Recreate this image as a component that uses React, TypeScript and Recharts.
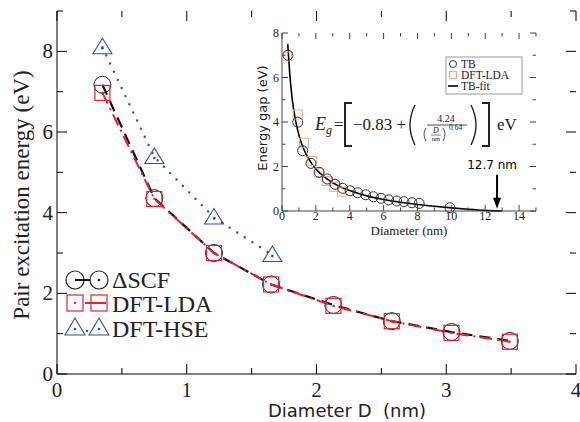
import React from 'react';
import { ComposedChart, Line, Scatter, XAxis, YAxis } from 'recharts';

// main panel: pair excitation energy vs diameter
const SCF_D = [0.35, 0.75, 1.21, 1.65, 2.13, 2.58, 3.04, 3.49];
const SCF_E = [7.17, 4.36, 3.0, 2.22, 1.71, 1.31, 1.04, 0.82];
const LDA_D = [0.35, 0.75, 1.21, 1.65, 2.13, 2.58, 3.04, 3.49];
const LDA_E = [6.97, 4.34, 3.0, 2.22, 1.69, 1.31, 1.02, 0.8];
const HSE_D = [0.35, 0.75, 1.21, 1.66];
const HSE_E = [8.1, 5.38, 3.88, 2.95];
const MAIN_X_TICKS = [0, 0.5, 1, 1.5, 2, 2.5, 3, 3.5, 4];
const MAIN_Y_TICKS = [0, 1, 2, 3, 4, 5, 6, 7, 8, 9];

// inset: energy gap vs diameter
const TB_D = [0.35, 0.93, 1.22, 1.71, 2.19, 2.68, 3.13, 3.58, 4.02, 4.47, 4.94, 5.4, 5.85, 6.3, 6.77, 7.2, 7.67, 8.1, 9.92];
const TB_E = [7.0, 3.99, 2.71, 2.14, 1.74, 1.44, 1.2, 1.02, 0.91, 0.82, 0.73, 0.64, 0.57, 0.5, 0.45, 0.42, 0.37, 0.34, 0.15];
const LDA_IN_D = [0.3, 0.93, 1.3, 1.79, 2.2, 2.64, 3.09, 3.56];
const LDA_IN_E = [6.95, 4.34, 3.07, 2.25, 1.72, 1.35, 1.09, 0.87];
const FIT_D = [0.34, 0.45, 0.6, 0.8, 1, 1.3, 1.6, 2, 2.5, 3, 3.5, 4, 5, 6, 7, 8, 9, 10, 11, 12, 13];
const FIT_E = [7.5, 6.24, 5.05, 4.06, 3.41, 2.75, 2.31, 1.89, 1.53, 1.27, 1.07, 0.92, 0.68, 0.52, 0.39, 0.29, 0.21, 0.14, 0.08, 0.03, 0.0];
const IN_X_TICKS = [0, 1, 2, 3, 4, 5, 6, 7, 8, 9, 10, 11, 12, 13, 14, 15];
const IN_Y_TICKS = [0, 1, 2, 3, 4, 5, 6, 7, 8];
const ARROW_AT = [{ d: 12.7, e: 0.1 }];

const pts = (xs: number[], ys: number[]) => xs.map((d, i) => ({ d, e: ys[i] }));

const SERIF = 'Liberation Serif, DejaVu Serif, serif';
const SANS = 'DejaVu Sans, sans-serif';
const RED = '#e8202a';
const BLUE = '#2d4fae';
const SALMON = '#f4a383';

// plot edges (main chart)
const M_TOP = 11;
const M_BOTTOM = 374;
const M_LEFT = 57;
const M_RIGHT = 576;
// plot edges (inset, relative to its own box)
const I_TOP = 13;
const I_BOTTOM = 191;
const I_LEFT = 32;
const I_RIGHT = 286;

const MainXTick = (p: any) => {
  const v = p.payload.value;
  const major = Number.isInteger(v);
  const len = major ? 10 : 6;
  return (
    <g>
      <line x1={p.x} x2={p.x} y1={M_BOTTOM} y2={M_BOTTOM - len} stroke="#000" />
      <line x1={p.x} x2={p.x} y1={M_TOP} y2={M_TOP + len} stroke="#000" />
      {major && (
        <text x={p.x} y={397} textAnchor="middle" style={{ fontFamily: SERIF }} fontSize={21} fill="#222">
          {v}
        </text>
      )}
    </g>
  );
};

const MainYTick = (p: any) => {
  const v = p.payload.value;
  const major = v % 2 === 0;
  const len = major ? 10 : 6;
  return (
    <g>
      <line x1={M_LEFT} x2={M_LEFT + len} y1={p.y} y2={p.y} stroke="#000" />
      <line x1={M_RIGHT} x2={M_RIGHT - len} y1={p.y} y2={p.y} stroke="#000" />
      {major && v < 9 && (
        <text x={53} y={p.y + 7} textAnchor="end" style={{ fontFamily: SERIF }} fontSize={21} fill="#222">
          {v}
        </text>
      )}
    </g>
  );
};

const InXTick = (p: any) => {
  const v = p.payload.value;
  const major = v % 2 === 0;
  const len = major ? 6 : 3.5;
  return (
    <g>
      <line x1={p.x} x2={p.x} y1={I_BOTTOM} y2={I_BOTTOM - len} stroke="#444" />
      <line x1={p.x} x2={p.x} y1={I_TOP} y2={I_TOP + len} stroke="#444" />
      {major && v < 15 && (
        <text x={p.x} y={200} textAnchor="middle" style={{ fontFamily: SERIF }} fontSize={12} fill="#222">
          {v}
        </text>
      )}
    </g>
  );
};

const InYTick = (p: any) => {
  const v = p.payload.value;
  const major = v % 2 === 0;
  const len = major ? 6 : 3.5;
  return (
    <g>
      <line x1={I_LEFT} x2={I_LEFT + len} y1={p.y} y2={p.y} stroke="#444" />
      <line x1={I_RIGHT} x2={I_RIGHT - len} y1={p.y} y2={p.y} stroke="#444" />
      {major && (
        <text x={29} y={p.y + 4} textAnchor="end" style={{ fontFamily: SERIF }} fontSize={12} fill="#222">
          {v}
        </text>
      )}
    </g>
  );
};

const circleDot = (p: any) => (
  <circle key={`c${p.index}`} cx={p.cx} cy={p.cy} r={8.5} fill="none" stroke="#222" strokeWidth={1} />
);
const squareDot = (p: any) => (
  <g key={`s${p.index}`}>
    <rect x={p.cx - 7.5} y={p.cy - 7.5} width={15} height={15} fill="none" stroke={RED} strokeWidth={1.2} />
    <circle cx={p.cx} cy={p.cy} r={1.1} fill={RED} />
  </g>
);
const triDot = (p: any) => (
  <g key={`t${p.index}`}>
    <polygon
      points={`${p.cx},${p.cy - 9} ${p.cx - 9.5},${p.cy + 6.5} ${p.cx + 9.5},${p.cy + 6.5}`}
      fill="none"
      stroke={BLUE}
      strokeWidth={1.1}
    />
    <circle cx={p.cx} cy={p.cy + 1} r={1.3} fill={BLUE} />
  </g>
);

const tbShape = (p: any) => <circle cx={p.cx} cy={p.cy} r={5} fill="none" stroke="#333" strokeWidth={1} />;
const ldaShape = (p: any) => (
  <rect x={p.cx - 4.5} y={p.cy - 4.5} width={9} height={9} fill="none" stroke={SALMON} strokeWidth={1} />
);
const arrowShape = (p: any) => (
  <g>
    <line x1={p.cx} x2={p.cx} y1={p.cy - 34} y2={p.cy - 8} stroke="#000" strokeWidth={2} />
    <polygon points={`${p.cx - 4},${p.cy - 11} ${p.cx + 4},${p.cy - 11} ${p.cx},${p.cy}`} fill="#000" />
    <text x={p.cx - 5} y={p.cy - 40} textAnchor="middle" style={{ fontFamily: SANS }} fontSize={12} fill="#000">
      12.7 nm
    </text>
  </g>
);

const App: React.FC = () => {
  const scf = pts(SCF_D, SCF_E);
  const lda = pts(LDA_D, LDA_E);
  const hse = pts(HSE_D, HSE_E);
  const tb = pts(TB_D, TB_E);
  const ldaIn = pts(LDA_IN_D, LDA_IN_E);
  const fit = pts(FIT_D, FIT_E);

  return (
    <div style={{ position: 'absolute', left: 0, top: 0, width: 580, height: 422, background: '#fff' }}>
      <ComposedChart width={580} height={422} margin={{ top: M_TOP, right: 4, bottom: 0, left: 0 }}>
        <XAxis
          dataKey="d"
          type="number"
          domain={[0, 4]}
          ticks={MAIN_X_TICKS}
          interval={0}
          height={48}
          tickLine={false}
          tick={MainXTick}
          axisLine={{ stroke: '#000' }}
        />
        <XAxis
          xAxisId="top"
          orientation="top"
          type="number"
          domain={[0, 4]}
          height={0}
          tick={false}
          tickLine={false}
          axisLine={{ stroke: '#000' }}
        />
        <YAxis
          type="number"
          domain={[0, 9]}
          ticks={MAIN_Y_TICKS}
          interval={0}
          width={57}
          tickLine={false}
          tick={MainYTick}
          axisLine={{ stroke: '#000' }}
        />
        <YAxis
          yAxisId="right"
          orientation="right"
          type="number"
          domain={[0, 9]}
          width={0}
          tick={false}
          tickLine={false}
          axisLine={{ stroke: '#000' }}
        />
        <Line
          data={hse}
          dataKey="e"
          stroke={BLUE}
          strokeWidth={2.4}
          strokeDasharray="0 9"
          strokeLinecap="round"
          dot={triDot}
          activeDot={false}
          isAnimationActive={false}
        />
        <Line
          data={scf}
          dataKey="e"
          stroke="#111"
          strokeWidth={2.2}
          strokeDasharray="11 7"
          dot={circleDot}
          activeDot={false}
          isAnimationActive={false}
        />
        <Line
          data={lda}
          dataKey="e"
          stroke={RED}
          strokeWidth={2}
          strokeDasharray="12 5 2 5"
          dot={squareDot}
          activeDot={false}
          isAnimationActive={false}
        />
      </ComposedChart>

      <div style={{ position: 'absolute', left: 250, top: 20 }}>
        <ComposedChart width={300} height={215} margin={{ top: I_TOP, right: 14, bottom: 0, left: 0 }}>
          <XAxis
            dataKey="d"
            type="number"
            domain={[0, 15]}
            ticks={IN_X_TICKS}
            interval={0}
            height={24}
            tickLine={false}
            tick={InXTick}
            axisLine={{ stroke: '#444' }}
          />
          <XAxis
            xAxisId="top"
            orientation="top"
            type="number"
            domain={[0, 15]}
            height={0}
            tick={false}
            tickLine={false}
            axisLine={{ stroke: '#444' }}
          />
          <YAxis
            dataKey="e"
            type="number"
            domain={[0, 8]}
            ticks={IN_Y_TICKS}
            interval={0}
            width={32}
            tickLine={false}
            tick={InYTick}
            axisLine={{ stroke: '#444' }}
          />
          <YAxis
            yAxisId="right"
            orientation="right"
            type="number"
            domain={[0, 8]}
            width={0}
            tick={false}
            tickLine={false}
            axisLine={{ stroke: '#444' }}
          />
          <Scatter data={ldaIn} dataKey="e" shape={ldaShape} isAnimationActive={false} />
          <Scatter data={tb} dataKey="e" shape={tbShape} isAnimationActive={false} />
          <Line
            data={fit}
            dataKey="e"
            type="monotone"
            stroke="#000"
            strokeWidth={1.6}
            dot={false}
            activeDot={false}
            isAnimationActive={false}
          />
          <Scatter data={ARROW_AT} dataKey="e" shape={arrowShape} isAnimationActive={false} />
        </ComposedChart>
      </div>

      <svg
        width={580}
        height={422}
        style={{ position: 'absolute', left: 0, top: 0, pointerEvents: 'none' }}
      >
        {/* axis titles */}
        <text
          x={0}
          y={0}
          transform="translate(29,195) rotate(-90)"
          textAnchor="middle"
          style={{ fontFamily: SERIF }}
          fontSize={23}
          fill="#222"
        >
          Pair excitation energy (eV)
        </text>
        <text x={347} y={417} textAnchor="middle" style={{ fontFamily: SANS }} fontSize={18} fill="#222">
          {'Diameter D\u00a0\u00a0(nm)'}
        </text>
        <text
          x={0}
          y={0}
          transform="translate(267,118) rotate(-90)"
          textAnchor="middle"
          style={{ fontFamily: SANS }}
          fontSize={13}
          fill="#222"
        >
          Energy gap (eV)
        </text>
        <text x={409} y={235} textAnchor="middle" style={{ fontFamily: SERIF }} fontSize={13} fill="#222">
          Diameter (nm)
        </text>

        {/* main legend */}
        <g style={{ fontFamily: SERIF }} fontSize={24} fill="#222">
          <circle cx={75} cy={280} r={9} fill="none" stroke="#222" strokeWidth={1.2} />
          <line x1={75} x2={90} y1={280} y2={280} stroke="#111" strokeWidth={2} />
          <circle cx={99} cy={280} r={9} fill="none" stroke="#222" strokeWidth={1.2} />
          <circle cx={99} cy={280} r={1.3} fill="#222" />
          <text x={112} y={288}>ΔSCF</text>

          <rect x={67} y={295} width={16} height={16} fill="none" stroke={RED} strokeWidth={1.2} />
          <circle cx={75} cy={303} r={1.2} fill={RED} />
          <line x1={85} x2={106} y1={303} y2={303} stroke={RED} strokeWidth={2} />
          <rect x={91} y={295} width={16} height={16} fill="none" stroke={RED} strokeWidth={1.2} />
          <text x={112} y={311.5}>DFT-LDA</text>

          <polygon points="75,318 65,335 85,335" fill="none" stroke={BLUE} strokeWidth={1.1} />
          <circle cx={75} cy={329} r={1.3} fill={BLUE} />
          <circle cx={87} cy={331} r={1.3} fill={BLUE} />
          <polygon points="99,318 89,335 109,335" fill="none" stroke={BLUE} strokeWidth={1.1} />
          <circle cx={99} cy={329} r={1.3} fill={BLUE} />
          <text x={112} y={336.5}>DFT-HSE</text>
        </g>

        {/* inset legend */}
        <rect x={446} y={57} width={76} height={37} fill="#fff" stroke="#999" strokeWidth={1} />
        <g style={{ fontFamily: SERIF }} fontSize={11.5} fill="#222">
          <circle cx={453} cy={64} r={3.5} fill="none" stroke="#333" strokeWidth={1} />
          <text x={461} y={68}>TB</text>
          <rect x={449.5} y={71.5} width={7} height={7} fill="none" stroke={SALMON} strokeWidth={1} />
          <text x={461} y={79}>DFT-LDA</text>
          <line x1={448} x2={458} y1={86} y2={86} stroke="#000" strokeWidth={1.6} />
          <text x={461} y={90}>TB-fit</text>
        </g>

        {/* fit formula */}
        <g style={{ fontFamily: SERIF }} fill="#222">
          <text x={315} y={130} fontSize={18} fontStyle="italic">E</text>
          <text x={326} y={134} fontSize={12} fontStyle="italic">g</text>
          <text x={334} y={130} fontSize={17}>=</text>
          <path d="M352 103 L345 103 L345 146 L352 146" fill="none" stroke="#222" strokeWidth={2} />
          <text x={353} y={130} fontSize={17}>−0.83 +</text>
          <path d="M415 105 Q405 125 415 145" fill="none" stroke="#222" strokeWidth={1.4} />
          <text x={446} y={122} fontSize={10} textAnchor="middle">4.24</text>
          <line x1={427} x2={467} y1={125} y2={125} stroke="#222" strokeWidth={0.8} />
          <path d="M426 128 Q422 134 426 141" fill="none" stroke="#222" strokeWidth={0.8} />
          <text x={436} y={133} fontSize={8} fontStyle="italic" textAnchor="middle">D</text>
          <line x1={431} x2={441} y1={135} y2={135} stroke="#222" strokeWidth={0.6} />
          <text x={436} y={141} fontSize={6.5} textAnchor="middle">nm</text>
          <path d="M443 128 Q447 134 443 141" fill="none" stroke="#222" strokeWidth={0.8} />
          <text x={449} y={130} fontSize={7.5}>0.64</text>
          <path d="M471 105 Q481 125 471 145" fill="none" stroke="#222" strokeWidth={1.4} />
          <path d="M482 103 L489 103 L489 146 L482 146" fill="none" stroke="#222" strokeWidth={2} />
          <text x={497} y={130} fontSize={17}>eV</text>
        </g>
      </svg>
    </div>
  );
};

export default App;
